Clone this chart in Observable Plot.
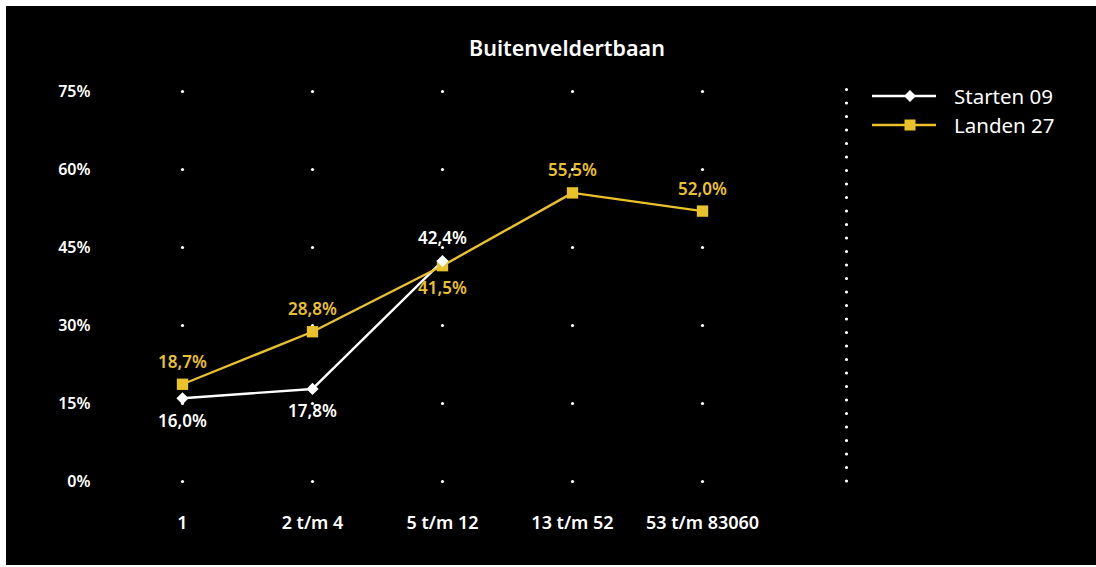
<!DOCTYPE html>
<html>
<head>
<meta charset="utf-8">
<script src="https://cdn.jsdelivr.net/npm/d3@7"></script>
<script src="https://cdn.jsdelivr.net/npm/@observablehq/plot@0.6"></script>
<style>
  html, body { margin: 0; padding: 0; background: #fff; }
  #wrap { position: absolute; left: 6px; top: 6px; width: 1090px; height: 559px; background: #000; overflow: hidden; }
  #title { position: absolute; left: 0; width: 1122px; top: 27px; text-align: center; color: #fff;
           font: 600 21.5px "Noto Sans", sans-serif; }
  #legend { position: absolute; left: 864px; top: 75px; color: #fff; font: 400 20.5px "Noto Sans", sans-serif; }
  .lg { display: flex; align-items: center; height: 29px; }
  .lg svg { margin-right: 18px; }
</style>
</head>
<body>
<div id="wrap">
  <div id="chart"></div>
  <div id="title"></div>
  <div id="legend"></div>
</div>
<script>
const title = "Buitenveldertbaan";
const categories = ["1", "2 t/m 4", "5 t/m 12", "13 t/m 52", "53 t/m 83060"];
const yTicks = [0, 15, 30, 45, 60, 75];
const seriesNames = ["Starten 09", "Landen 27"];
const starten = [16.0, 17.8, 42.4];
const landen = [18.7, 28.8, 41.5, 55.5, 52.0];
const colors = ["#ffffff", "#E8C12B"];
const symbols = ["diamond2", "square"];

const fmt = v => v.toFixed(1).replace(".", ",") + "%";
const font = "'Noto Sans', sans-serif";

const rows = [];
[starten, landen].forEach((vals, s) => {
  const other = s === 0 ? landen : starten;
  vals.forEach((v, i) => {
    const below = other[i] !== undefined && other[i] > v;
    rows.push({series: seriesNames[s], s, cat: categories[i], value: v, below});
  });
});

const grid = [];
for (const c of categories) for (const t of yTicks) grid.push({cat: c, t});

const chart = Plot.plot({
  width: 1090,
  height: 559,
  marginTop: 85,
  marginBottom: 84,
  marginLeft: 90,
  marginRight: 0,
  style: {background: "transparent", color: "#fff", fontFamily: font},
  x: {type: "point", domain: categories, range: [175, 697], padding: 0, label: null},
  y: {domain: [0, 75], ticks: yTicks, label: null},
  marks: [
    Plot.dot(grid, {x: "cat", y: "t", r: 1.6, fill: "#fff"}),
    Plot.ruleX([categories[categories.length - 1]], {
      dx: 144, y1: 0, y2: 75.5, stroke: "#fff", strokeWidth: 3.2,
      strokeDasharray: "0 13.5", strokeLinecap: "round"
    }),
    Plot.axisY({ticks: yTicks, tickSize: 0, tickPadding: 6, tickFormat: d => d + "%",
      fontSize: 16, fontWeight: 600, textAnchor: "end"}),
    Plot.axisX({tickSize: 0, tickPadding: 35, fontSize: 18, fontWeight: 600}),
    Plot.line(rows, {x: "cat", y: "value", z: "series", stroke: d => colors[d.s], strokeWidth: 2.4}),
    Plot.dot(rows.filter(d => d.s === 1), {x: "cat", y: "value", symbol: symbols[1], r: 6.4, fill: colors[1]}),
    Plot.dot(rows.filter(d => d.s === 0), {x: "cat", y: "value", symbol: symbols[0], r: 5.5, fill: colors[0]}),
    Plot.text(rows.filter(d => d.below), {x: "cat", y: "value", text: d => fmt(d.value), dy: 23,
      fill: d => colors[d.s], fontSize: 17, fontWeight: 600}),
    Plot.text(rows.filter(d => !d.below), {x: "cat", y: "value", text: d => fmt(d.value), dy: -22,
      fill: d => colors[d.s], fontSize: 17, fontWeight: 600})
  ]
});
chart.style.position = "absolute";
chart.style.left = "0";
chart.style.top = "0";
document.getElementById("chart").appendChild(chart);

document.getElementById("title").textContent = title;
const leg = document.getElementById("legend");
seriesNames.forEach((n, i) => {
  const row = document.createElement("div");
  row.className = "lg";
  const marker = i === 0
    ? `<path d="M40,4 L46,10 L40,16 L34,10 Z" fill="${colors[0]}"/>`
    : `<rect x="34.5" y="4.5" width="11" height="11" fill="${colors[1]}"/>`;
  row.innerHTML = `<svg width="66" height="20"><line x1="2" x2="66" y1="10" y2="10" stroke="${colors[i]}" stroke-width="2.5"/>${marker}</svg><span>${n}</span>`;
  leg.appendChild(row);
});
</script>
</body>
</html>
